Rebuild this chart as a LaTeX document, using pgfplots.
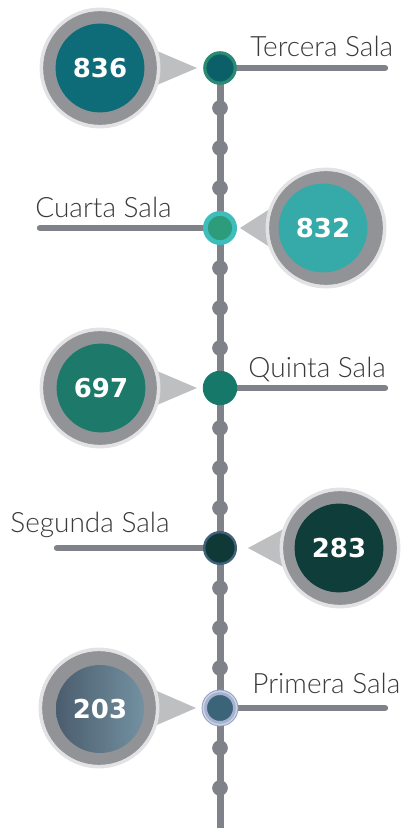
\documentclass[border=0pt]{standalone}
\usepackage{pgfplots}
\pgfplotsset{compat=1.18}
\usepackage{fontspec}
\setmainfont{Lato Light}
\newfontfamily\numfont{DejaVu Sans}
\definecolor{linegray}{HTML}{7F8288}
\definecolor{ringgray}{HTML}{929397}
\definecolor{glowgray}{HTML}{E2E2E4}
\definecolor{ptrgray}{HTML}{BEBFC1}
\definecolor{labtext}{HTML}{3A3A3A}
\definecolor{cTer}{HTML}{0E6B78}
\definecolor{cCua}{HTML}{36A9A9}
\definecolor{cQui}{HTML}{1D7A6B}
\definecolor{cSeg}{HTML}{0F3E3A}
\definecolor{cPriL}{HTML}{4A5D6E}
\definecolor{cPriR}{HTML}{7391A1}
\definecolor{nTerF}{HTML}{0A5F69}
\definecolor{nTerD}{HTML}{2B8A72}
\definecolor{nCuaF}{HTML}{2C9C7A}
\definecolor{nCuaD}{HTML}{3DBDBB}
\definecolor{nQuiF}{HTML}{167868}
\definecolor{nSegF}{HTML}{0E3937}
\definecolor{nSegD}{HTML}{3F5F7A}
\definecolor{nPriF}{HTML}{3C6478}
\definecolor{nPriD}{HTML}{8E9DC2}
\pgfdeclarehorizontalshading{priShade}{100bp}{color(0bp)=(cPriL); color(25bp)=(cPriL); color(75bp)=(cPriR); color(100bp)=(cPriR)}
\pgfdeclareplotmark{gradcirc}{\pgfpathcircle{\pgfpointorigin}{\pgfplotmarksize}\pgfshadepath{priShade}{0}\pgfusepath{discard}}
\tikzset{lab/.style={anchor=base west, text=labtext, font=\fontsize{14}{14}\selectfont, inner sep=0pt}}
\begin{document}
\begin{tikzpicture}
\begin{axis}[name=ax, scale only axis, width=204.5pt, height=414pt,
  xmin=0, xmax=409, ymin=0, ymax=828, y dir=reverse, hide axis, clip=false,
  numstyle/.style={point meta=explicit symbolic, nodes near coords,
    nodes near coords style={anchor=center, text=white, inner sep=0pt,
      font=\numfont\bfseries\fontsize{13}{13}\selectfont}},
]
% main vertical line
\addplot[linegray, line width=3.5pt] coordinates {(220,68) (220,828)};
% small dots
\addplot[only marks, mark=*, mark size=3.7pt, color=linegray, mark options={fill=linegray, draw=none}]
  coordinates {(220,108) (220,148) (220,188) (220,268) (220,308) (220,348)
  (220,428) (220,468) (220,508) (220,588) (220,628) (220,668) (220,748) (220,788)};
% horizontal connectors
\addplot[linegray, line width=3.2pt, line cap=round] coordinates {(220,68) (385,68)};
\addplot[linegray, line width=3.2pt, line cap=round] coordinates {(40,228) (220,228)};
\addplot[linegray, line width=3.2pt, line cap=round] coordinates {(220,388) (385,388)};
\addplot[linegray, line width=3.2pt, line cap=round] coordinates {(57,548) (220,548)};
\addplot[linegray, line width=3.2pt, line cap=round] coordinates {(220,708) (385,708)};
% pointers
\addplot[fill=ptrgray, draw=none] coordinates {(150,48) (197,68) (150,88)};
\addplot[fill=ptrgray, draw=none] coordinates {(276,205) (240,228) (276,251)};
\addplot[fill=ptrgray, draw=none] coordinates {(150,368) (197,388) (150,408)};
\addplot[fill=ptrgray, draw=none] coordinates {(291,525) (248,548) (291,571)};
\addplot[fill=ptrgray, draw=none] coordinates {(150,688) (196,708) (150,728)};
% glow
\addplot[only marks, mark=*, mark size=30pt, color=glowgray, mark options={fill=glowgray, draw=none}]
  coordinates {(100,68) (326,228) (100,388) (340,548) (99,708)};
% rings
\addplot[only marks, mark=*, mark size=28.2pt, color=ringgray, mark options={fill=ringgray, draw=none}]
  coordinates {(100,68) (326,228) (100,388) (340,548) (99,708)};
% inner circles with values
\addplot[only marks, mark=*, mark size=22pt, color=cTer, mark options={fill=cTer, draw=none}, numstyle] coordinates {(100,68) [836]};
\addplot[only marks, mark=*, mark size=22pt, color=cCua, mark options={fill=cCua, draw=none}, numstyle] coordinates {(323,228) [832]};
\addplot[only marks, mark=*, mark size=22pt, color=cQui, mark options={fill=cQui, draw=none}, numstyle] coordinates {(101,388) [697]};
\addplot[only marks, mark=*, mark size=22pt, color=cSeg, mark options={fill=cSeg, draw=none}, numstyle] coordinates {(339,548) [283]};
\addplot[only marks, mark=gradcirc, mark size=22pt, numstyle] coordinates {(100,709) [203]};
% timeline nodes
\addplot[only marks, mark=*, mark size=7.6pt, color=nTerD, mark options={fill=nTerF, draw=nTerD, line width=1.6pt}] coordinates {(220,68)};
\addplot[only marks, mark=*, mark size=7.3pt, color=nCuaD, mark options={fill=nCuaF, draw=nCuaD, line width=2.4pt}] coordinates {(220,228)};
\addplot[only marks, mark=*, mark size=8.4pt, color=nQuiF, mark options={fill=nQuiF, draw=none}] coordinates {(220,388)};
\addplot[only marks, mark=*, mark size=7.9pt, color=nSegD, mark options={fill=nSegF, draw=nSegD, line width=1.2pt}] coordinates {(220,548)};
\addplot[only marks, mark=*, mark size=9pt, color=nPriD, mark options={fill=nPriD!45, draw=none}] coordinates {(220,708)};
\addplot[only marks, mark=*, mark size=7.2pt, color=nPriD, mark options={fill=nPriF, draw=nPriD!80, line width=1.4pt}] coordinates {(220,708)};
% labels
\node[lab] at (axis cs:250,57) {Tercera Sala};
\node[lab] at (axis cs:35,218) {Cuarta Sala};
\node[lab] at (axis cs:248,377) {Quinta Sala};
\node[lab] at (axis cs:10,532) {Segunda Sala};
\node[lab] at (axis cs:252,693) {Primera Sala};
\end{axis}
\pgfresetboundingbox
\useasboundingbox (ax.south west) rectangle (ax.north east);
\end{tikzpicture}
\end{document}
